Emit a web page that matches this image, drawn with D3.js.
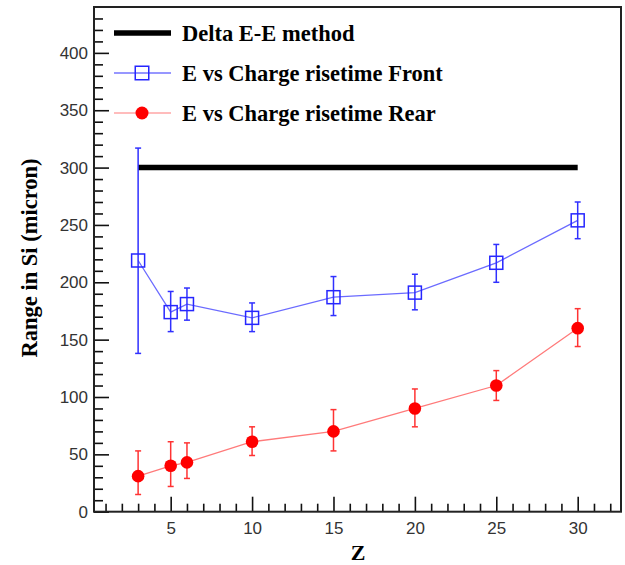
<!DOCTYPE html>
<html><head><meta charset="utf-8">
<script src="https://cdn.jsdelivr.net/npm/d3@7"></script>
<style>body{margin:0;background:#fff}</style>
</head><body>
<svg id="c" width="625" height="565"></svg>
<script>
const zValues = [3, 5, 6, 10, 15, 20, 25, 30];
const frontRange = [219, 174, 181, 169, 187, 191, 217, 254];
const frontErrHigh = [317, 192, 195, 182, 205, 207, 233, 270];
const frontErrLow = [138, 157, 167, 157, 171, 176, 200, 238];
const rearRange = [31, 40, 43, 61, 70, 90, 110, 160];
const rearErrHigh = [53, 61, 60, 74, 89, 107, 123, 177];
const rearErrLow = [15, 22, 29, 49, 53, 74, 97, 144];
const deltaZ = [3, 30];
const deltaRange = [300, 300];
const xMajorTicks = [5, 10, 15, 20, 25, 30];
const yMajorTicks = [0, 50, 100, 150, 200, 250, 300, 350, 400];
const legendLabels = ["Delta E-E method", "E vs Charge risetime Front", "E vs Charge risetime Rear"];

const svg = d3.select("#c");
const L = 94, R = 621, T = 7, B = 511.7;
const x = d3.scaleLinear().domain([0.29, 32.66]).range([L, R]);
const y = d3.scaleLinear().domain([0, 440]).range([B, T]);

const serif = "'Liberation Serif','Times New Roman',serif";
const sans = "'Liberation Sans',Arial,sans-serif";

const xMinor = d3.range(1, 33).filter(v => v % 5 !== 0);
const yMinor = d3.range(10, 440, 10).filter(v => v % 50 !== 0);

const gx = svg.append("g").attr("transform", `translate(0,${B})`);
gx.call(d3.axisBottom(x).tickValues(xMinor).tickSize(-8).tickFormat(""));
gx.call(g => g.select(".domain").remove());
const gx2 = svg.append("g").attr("transform", `translate(0,${B})`)
  .call(d3.axisBottom(x).tickValues(xMajorTicks).tickSize(-15).tickPadding(10).tickFormat(d3.format("d")));
gx2.select(".domain").remove();
const gy = svg.append("g").attr("transform", `translate(${L},0)`);
gy.call(d3.axisLeft(y).tickValues(yMinor).tickSize(-9).tickFormat(""));
gy.select(".domain").remove();
const gy2 = svg.append("g").attr("transform", `translate(${L},0)`)
  .call(d3.axisLeft(y).tickValues(yMajorTicks).tickSize(-15).tickPadding(6).tickFormat(d3.format("d")));
gy2.select(".domain").remove();
svg.selectAll(".tick line").attr("stroke", "#111").attr("stroke-width", 1.6);
svg.selectAll(".tick text").attr("font-family", sans).attr("font-size", 17).attr("fill", "#333");

svg.append("rect").attr("x", L).attr("y", T).attr("width", R - L).attr("height", B - T)
  .attr("fill", "none").attr("stroke", "#222").attr("stroke-width", 2);

svg.append("line").attr("x1", x(deltaZ[0])).attr("x2", x(deltaZ[1]))
  .attr("y1", y(deltaRange[0])).attr("y2", y(deltaRange[1]))
  .attr("stroke", "#000").attr("stroke-width", 5.5);

function series(vals, hi, lo, lineCol, errCol, marker) {
  const line = d3.line().x((d, i) => x(zValues[i])).y(d => y(d));
  svg.append("path").datum(vals).attr("d", line).attr("fill", "none")
    .attr("stroke", lineCol).attr("stroke-width", 1.3);
  const g = svg.append("g").attr("stroke", errCol).attr("stroke-width", 1.5);
  zValues.forEach((z, i) => {
    const cx = x(z);
    g.append("line").attr("x1", cx).attr("x2", cx).attr("y1", y(hi[i])).attr("y2", y(lo[i]));
    g.append("line").attr("x1", cx - 3).attr("x2", cx + 3).attr("y1", y(hi[i])).attr("y2", y(hi[i]));
    g.append("line").attr("x1", cx - 3).attr("x2", cx + 3).attr("y1", y(lo[i])).attr("y2", y(lo[i]));
  });
  zValues.forEach((z, i) => marker(x(z), y(vals[i])));
}
function square(cx, cy, s) {
  svg.append("rect").attr("x", cx - s / 2).attr("y", cy - s / 2).attr("width", s).attr("height", s)
    .attr("fill", "none").attr("stroke", "#2626ff").attr("stroke-width", 1.5);
}
function circle(cx, cy, r) {
  svg.append("circle").attr("cx", cx).attr("cy", cy).attr("r", r).attr("fill", "#ff0000");
}
series(frontRange, frontErrHigh, frontErrLow, "#6b6bff", "#3030ff", (a, b) => square(a, b, 13));
series(rearRange, rearErrHigh, rearErrLow, "#ff7a7a", "#ff3333", (a, b) => circle(a, b, 6.3));

const ly = [33, 73, 113];
svg.append("line").attr("x1", 114).attr("x2", 171).attr("y1", ly[0]).attr("y2", ly[0])
  .attr("stroke", "#000").attr("stroke-width", 5.5);
svg.append("line").attr("x1", 114).attr("x2", 171).attr("y1", ly[1]).attr("y2", ly[1])
  .attr("stroke", "#3030ff").attr("stroke-width", 1.2);
square(142, ly[1], 13.5);
svg.append("line").attr("x1", 114).attr("x2", 171).attr("y1", ly[2]).attr("y2", ly[2])
  .attr("stroke", "#ff7a7a").attr("stroke-width", 1.2);
circle(142, ly[2], 6.5);
legendLabels.forEach((t, i) => {
  svg.append("text").attr("x", 182).attr("y", ly[i]).attr("dy", "0.35em")
    .attr("font-family", serif).attr("font-weight", "bold").attr("font-size", 22.5)
    .attr("fill", "#000").text(t);
});

svg.append("text").attr("transform", "translate(37,258) rotate(-90)").attr("text-anchor", "middle")
  .attr("font-family", serif).attr("font-weight", "bold").attr("font-size", 22.5).text("Range in Si (micron)");
svg.append("text").attr("x", 358).attr("y", 560).attr("text-anchor", "middle")
  .attr("font-family", serif).attr("font-weight", "bold").attr("font-size", 22).text("Z");
</script>
</body></html>
